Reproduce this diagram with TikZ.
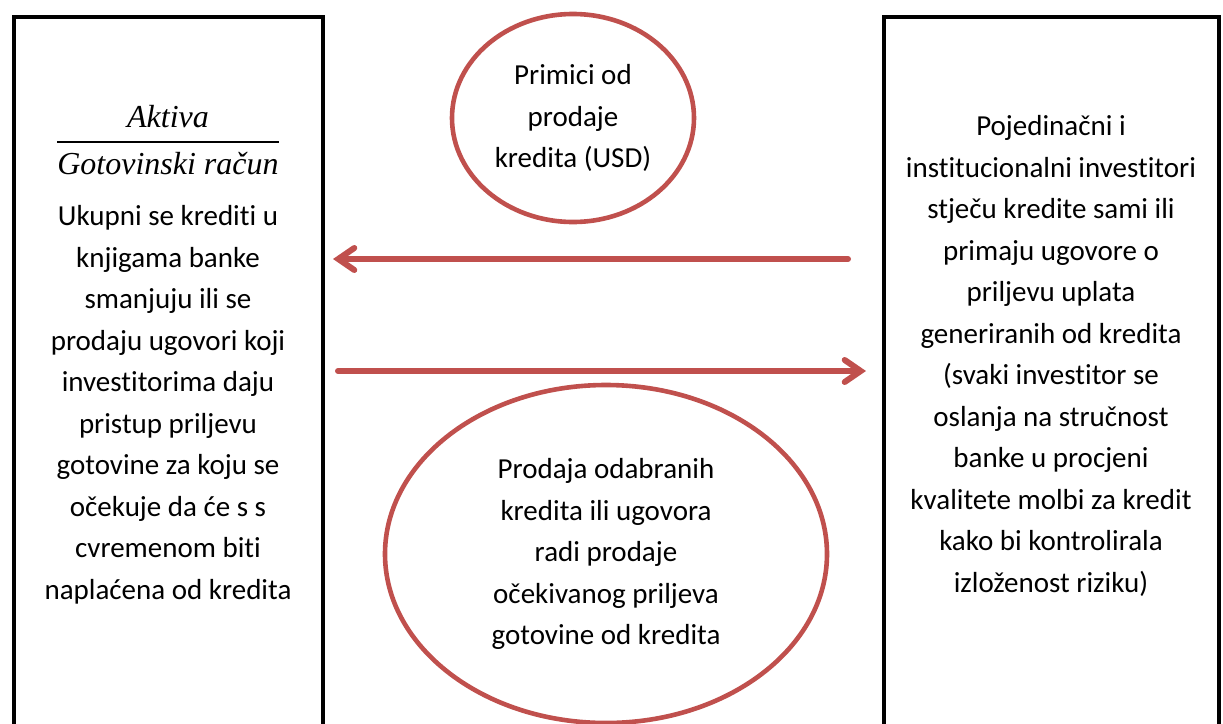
\documentclass[tikz,border=0pt]{standalone}
\usepackage{amsmath}
\usepackage{fontspec}
\setmainfont{Carlito}[Ligatures=NoCommon]
\newfontfamily\fracfont{Liberation Serif}
\usetikzlibrary{arrows.meta,positioning,shapes.geometric}

\definecolor{flowred}{HTML}{C0504D}
\newcommand{\txtsize}{\fontsize{14.5}{20.75}\selectfont}

\begin{document}
\begin{tikzpicture}[
    x=0.5pt, y=-0.5pt,
    node distance=8pt,
    panel/.style={rectangle,draw=black,line width=2pt,minimum width=154.5pt,minimum height=380pt,anchor=north,inner sep=0pt},
    bubble/.style={ellipse,draw=flowred,line width=2.3pt,inner sep=0pt,align=center,font=\txtsize},
    body/.style={align=center,font=\txtsize,inner sep=0pt},
    flow/.style={draw=flowred,line width=3pt,line cap=round,-{Straight Barb[length=8pt,width=11pt,line cap=round]}}
]
    \clip (0,0) rectangle (1223,724);

    % the two sides of the sale
    \node[panel] (bank) at (168.5,15) {};
    \node[panel,minimum width=167.5pt] (investors) at (1051.5,15) {};

    \node[body] (aktiva) at (168,140) {\fontsize{16}{20}\selectfont$\dfrac{\text{\fracfont\itshape Aktiva}}{\text{\fracfont\itshape Gotovinski račun}}$};
    \node[body] (assets) at (168,405) {Ukupni se krediti u\\knjigama banke\\smanjuju ili se\\prodaju ugovori koji\\investitorima daju\\pristup priljevu\\gotovine za koju se\\očekuje da će s s\\cvremenom biti\\naplaćena od kredita};
    \node[body] (buyers) at (1051,356) {Pojedinačni i\\institucionalni investitori\\stječu kredite sami ili\\primaju ugovore o\\priljevu uplata\\generiranih od kredita\\(svaki investitor se\\oslanja na stručnost\\banke u procjeni\\kvalitete molbi za kredit\\kako bi kontrolirala\\izloženost riziku)};

    % cash and loans in between
    \node[bubble,minimum width=121pt,minimum height=104pt] (proceeds) at (573,118) {Primici od\\prodaje\\kredita (USD)};
    \node[bubble,minimum width=221pt,minimum height=169pt] (sale) at (606,554) {Prodaja odabranih\\kredita ili ugovora\\radi prodaje\\očekivanog priljeva\\gotovine od kredita};

    \coordinate (upper) at (0,259);
    \coordinate (lower) at (0,371);
    \draw[flow,shorten <=17pt,shorten >=4pt] (investors.west |- upper) -- (bank.east |- upper);
    \draw[flow,shorten <=6.5pt,shorten >=8pt] (bank.east |- lower) -- (investors.west |- lower);
\end{tikzpicture}
\end{document}
